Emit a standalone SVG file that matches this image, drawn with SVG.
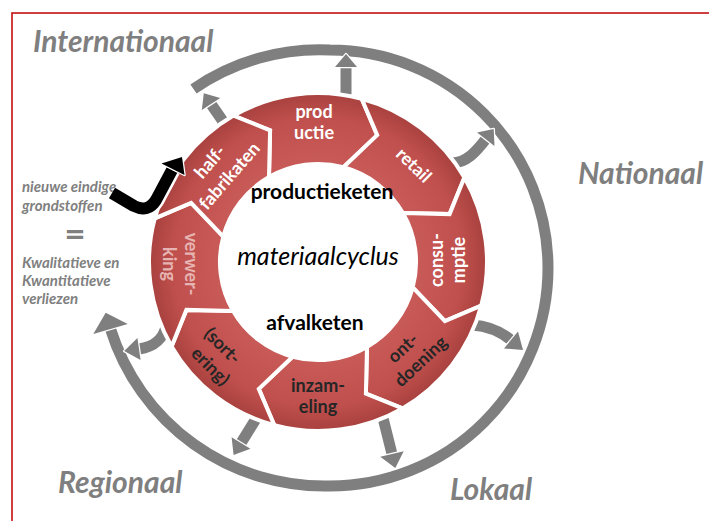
<svg xmlns="http://www.w3.org/2000/svg" width="709" height="521" viewBox="0 0 709 521">
<defs>
<radialGradient id="rg" gradientUnits="userSpaceOnUse" cx="318" cy="262" r="169">
<stop offset="0.58" stop-color="#c85a57"/>
<stop offset="0.85" stop-color="#c0504d"/>
<stop offset="1" stop-color="#a8413e"/>
</radialGradient>
<style>
.seg{fill:url(#rg);stroke:#fff;stroke-width:4;stroke-linejoin:miter}
.st{font-family:Lato,"Open Sans","Liberation Sans",sans-serif;font-weight:bold;font-size:18px;text-anchor:middle}
.w{fill:#fff}.d{fill:#262626}.p{fill:#e6b4b2}
.scale{font-family:Lato,"Open Sans","Liberation Sans",sans-serif;font-style:italic;font-weight:bold;font-size:30px;fill:#7f7f7f}
.note{font-family:Lato,"Open Sans","Liberation Sans",sans-serif;font-style:italic;font-weight:bold;font-size:15px;fill:#808080}
.ctr{font-family:Lato,"Open Sans","Liberation Sans",sans-serif;font-weight:bold;font-size:21px;fill:#000;text-anchor:middle}
.gs{fill:none;stroke:#7f7f7f;stroke-width:11}
.ws{fill:none;stroke:#fff;stroke-width:15}
.gh{fill:#7f7f7f;stroke:#fff;stroke-width:2.5;paint-order:stroke;stroke-linejoin:round}
</style>
</defs>
<rect width="709" height="521" fill="#fff"/>
<rect x="12" y="13" width="720" height="540" fill="none" stroke="#c00000" stroke-width="1.5"/>

<g id="scale-labels">
<text class="scale" x="33" y="52">Internationaal</text>
<text class="scale" x="578" y="184">Nationaal</text>
<text class="scale" x="58" y="493">Regionaal</text>
<text class="scale" x="450" y="500">Lokaal</text>
</g>

<g id="notes">
<text class="note" x="22" y="192">nieuwe eindige</text>
<text class="note" x="22" y="211">grondstoffen</text>
<text x="75" y="245" font-family="Lato,'Open Sans','Liberation Sans',sans-serif" font-weight="900" font-size="32" fill="#808080" text-anchor="middle" textLength="21" lengthAdjust="spacingAndGlyphs">=</text>
<text class="note" x="22" y="268">Kwalitatieve en</text>
<text class="note" x="22" y="286">Kwantitatieve</text>
<text class="note" x="22" y="304"> verliezen</text>
</g>

<g id="connectors">
<g id="outer-ring">
<path class="ws" d="M193.5,89 A222,222 0 0 1 330,50 A218,218 0 0 1 548,268 A218,218 0 0 1 330,486 A224,224 0 0 1 110.5,329" stroke-width="17"/>
<path class="gs" stroke-width="13" d="M193.5,89 A222,222 0 0 1 330,50 A218,218 0 0 1 548,268 A218,218 0 0 1 330,486 A224,224 0 0 1 110.5,329"/>
<polygon class="gh" points="93.3,334.1 127.7,323.9 105.7,312.7"/>
</g>
<g id="arr-halffabrikaten">
<path class="ws" d="M229,130 L211,104"/><path class="gs" d="M229,130 L211,104"/>
<polygon class="gh" points="220.2,97.9 201.8,110.1 203.8,93.2"/>
</g>
<g id="arr-productie">
<path class="ws" d="M346,102 L346,67"/><path class="gs" d="M346,102 L346,67"/>
<polygon class="gh" points="335,67 357,67 346,54"/>
</g>
<g id="arr-retail">
<path class="ws" d="M452,163 C466,163 476,152 485.8,139.2"/><path class="gs" d="M452,163 C466,163 476,152 485.8,139.2"/>
<polygon class="gh" points="494.5,145.9 477.1,132.5 493.7,128.9"/>
</g>
<g id="arr-ontdoening">
<path class="ws" d="M472,325 C489,326 500,331 511,340"/><path class="gs" d="M472,325 C489,326 500,331 511,340"/>
<polygon class="gh" points="504,348.4 518,331.6 523,350"/>
</g>
<g id="arr-inzameling">
<path class="ws" d="M381,410 L392,454"/><path class="gs" d="M381,410 L392,454"/>
<polygon class="gh" points="403.7,451.3 380.3,456.7 395.3,468"/>
</g>
<g id="arr-sortering">
<path class="ws" d="M259,414 L241,443"/><path class="gs" d="M259,414 L241,443"/>
<polygon class="gh" points="250.4,448.8 231.6,437.2 233.6,454.9"/>
</g>
<g id="arr-verwerking">
<path class="ws" d="M167,324 C163,340 154,347 139,349"/><path class="gs" d="M167,324 C163,340 154,347 139,349"/>
<polygon class="gh" points="140.6,359.9 137.4,338.1 124.2,351.1"/>
</g>
</g>

<g id="seg-productie">
<path class="seg" d="M233.5,115.6 A169,169 0 0 1 361.7,98.8 L377.2,135.1 L343.4,167.3 A98,98 0 0 0 269,177.1 L270.1,130.4 Z"/>
<text class="st w" x="314" y="118">prod</text>
<text class="st w" x="314" y="139">uctie</text>
</g>
<g id="seg-retail">
<path class="seg" d="M361.7,98.8 A169,169 0 0 1 464.4,177.5 L449.6,214.1 L402.9,213 A98,98 0 0 0 343.4,167.3 L377.2,135.1 Z"/>
<text class="st w" transform="translate(413,166) rotate(44)" y="5">retail</text>
</g>
<g id="seg-consumptie">
<path class="seg" d="M464.4,177.5 A169,169 0 0 1 481.2,305.7 L444.9,321.2 L412.7,287.4 A98,98 0 0 0 402.9,213 L449.6,214.1 Z"/>
<g transform="translate(449,260) rotate(-90)">
<text class="st w" y="-6">consu-</text>
<text class="st w" y="16">mptie</text>
</g>
</g>
<g id="seg-ontdoening">
<path class="seg" d="M481.2,305.7 A169,169 0 0 1 402.5,408.4 L365.9,393.6 L367,346.9 A98,98 0 0 0 412.7,287.4 L444.9,321.2 Z"/>
<g transform="translate(412.5,355.5) rotate(-43)">
<text class="st d" x="-2" y="-6">ont-</text>
<text class="st d" x="2" y="16">doening</text>
</g>
</g>
<g id="seg-inzameling">
<path class="seg" d="M402.5,408.4 A169,169 0 0 1 274.3,425.2 L258.8,388.9 L292.6,356.7 A98,98 0 0 0 367,346.9 L365.9,393.6 Z"/>
<text class="st d" x="318" y="392">inzam-</text>
<text class="st d" x="318" y="413">eling</text>
</g>
<g id="seg-sortering">
<path class="seg" d="M274.3,425.2 A169,169 0 0 1 171.6,346.5 L186.4,309.9 L233.1,311 A98,98 0 0 0 292.6,356.7 L258.8,388.9 Z"/>
<g transform="translate(216,356.5) rotate(45)">
<text class="st d" x="-3" y="-6">(sort-</text>
<text class="st d" x="3" y="17">ering)</text>
</g>
</g>
<g id="seg-verwerking">
<path class="seg" d="M171.6,346.5 A169,169 0 0 1 154.8,218.3 L191.1,202.8 L223.3,236.6 A98,98 0 0 0 233.1,311 L186.4,309.9 Z"/>
<g transform="translate(179,264) rotate(90)">
<text class="st p" y="-6">verwer-</text>
<text class="st p" y="16">king</text>
</g>
</g>
<g id="seg-halffabrikaten">
<path class="seg" d="M154.8,218.3 A169,169 0 0 1 233.5,115.6 L270.1,130.4 L269,177.1 A98,98 0 0 0 223.3,236.6 L191.1,202.8 Z"/>
<g transform="translate(220.5,169.7) rotate(-49)">
<text class="st w" x="-1" y="-7">half-</text>
<text class="st w" x="1" y="17">fabrikaten</text>
</g>
</g>

<g id="connector-grondstoffen">
<path d="M112,193 L134,206 Q148,213 156,200 L172,170" fill="none" stroke="#fff" stroke-width="17" stroke-linejoin="round"/>
<path d="M112,193 L134,206 Q148,213 156,200 L172,170" fill="none" stroke="#000" stroke-width="12" stroke-linejoin="round"/>
<polygon points="161.5,163.5 184.5,175 182,157" fill="#000" stroke="#fff" stroke-width="2.5" paint-order="stroke" stroke-linejoin="round"/>
</g>

<g id="center">
<text class="ctr" x="322" y="199">productieketen</text>
<text x="318" y="265" font-family="Lato,'Open Sans','Liberation Sans',sans-serif" font-style="italic" font-size="25" fill="#000" text-anchor="middle">materiaalcyclus</text>
<text class="ctr" x="315" y="330">afvalketen</text>
</g>
</svg>
